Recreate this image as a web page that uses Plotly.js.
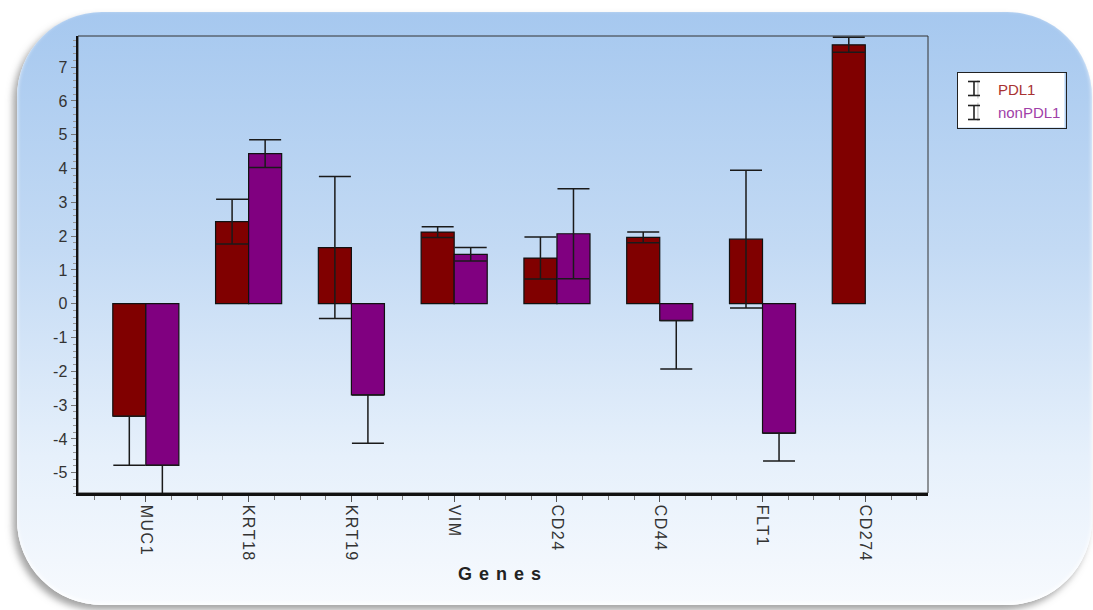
<!DOCTYPE html>
<html>
<head>
<meta charset="utf-8">
<script src="https://cdn.plot.ly/plotly-3.0.1.min.js"></script>
<style>
  html, body { margin: 0; padding: 0; width: 1093px; height: 610px; background: #ffffff; overflow: hidden; }
  #bg {
    position: absolute; left: 17px; top: 12px; width: 1075px; height: 593px;
    border-radius: 85px;
    background: linear-gradient(to bottom, #a6c8ef 0%, #c3daf4 40%, #e6f0fb 75%, #f7fafe 100%);
    box-shadow: -4px 5px 7px rgba(90, 90, 90, 0.55), 0 -2px 4px rgba(255,255,255,0.9) inset;
  }
  #chart { position: absolute; left: 0; top: 0; width: 1093px; height: 610px; }
  #chart .xtitle { letter-spacing: 7px; }
  #chart .xtick text { letter-spacing: 1.5px; }
</style>
</head>
<body>
<div id="bg"></div>
<div id="chart"></div>
<script>
const genes = ['MUC1', 'KRT18', 'KRT19', 'VIM', 'CD24', 'CD44', 'FLT1', 'CD274'];
const pdl1 = [-3.33, 2.43, 1.66, 2.12, 1.35, 1.96, 1.91, 7.66];
const pdl1Err = [1.45, 0.66, 2.10, 0.16, 0.62, 0.16, 2.04, 0.22];
const nonPdl1 = [-4.78, 4.44, -2.70, 1.46, 2.07, -0.50, -3.83, null];
const nonPdl1Err = [1.00, 0.41, 1.43, 0.20, 1.33, 1.43, 0.82, null];
const yTickVals = [-5, -4, -3, -2, -1, 0, 1, 2, 3, 4, 5, 6, 7];
const yTickText = ['-5', '-4', '-3', '-2', '-1', '0', '1', '2', '3', '4', '5', '6', '7'];

const xIdx = genes.map((g, i) => i);
// positive bars: symmetric error; negative bars: only the outward (downward) part is drawn
const plusOf = (vals, errs) => vals.map((v, i) => (v === null ? null : (v < 0 ? 0 : errs[i])));
const minusOf = (vals, errs) => vals.map((v, i) => (v === null ? null : errs[i]));

const font = 'Liberation Sans, Arial, sans-serif';
const errStyle = { color: '#1a1a1a', thickness: 1.5, width: 16 };
const legendIcon = { symbol: 'line-ns-open', size: 13, opacity: 0, color: '#222', line: { width: 1.6, color: '#222' } };

const traces = [
  {
    type: 'bar', name: 'PDL1', x: xIdx, y: pdl1, showlegend: false,
    marker: { color: '#800000', line: { color: '#111111', width: 1.2 } },
    error_y: Object.assign({ type: 'data', symmetric: false, array: plusOf(pdl1, pdl1Err), arrayminus: minusOf(pdl1, pdl1Err) }, errStyle)
  },
  {
    type: 'bar', name: 'nonPDL1', x: xIdx, y: nonPdl1, showlegend: false,
    marker: { color: '#800080', line: { color: '#111111', width: 1.2 } },
    error_y: Object.assign({ type: 'data', symmetric: false, array: plusOf(nonPdl1, nonPdl1Err), arrayminus: minusOf(nonPdl1, nonPdl1Err) }, errStyle)
  },
  { type: 'scatter', mode: 'markers', x: [null], y: [null], name: '<span style="color:#a83232">PDL1</span>', marker: legendIcon },
  { type: 'scatter', mode: 'markers', x: [null], y: [null], name: '<span style="color:#a040a8">nonPDL1</span>', marker: legendIcon }
];

// pixel helpers for the legend backing box and I-beam icons (plot area: x 78..928, y 36..493)
const px = v => (v - 78) / 850;
const py = v => (493 - v) / 457;
const iconLine = { color: '#222', width: 1.6 };
const legendShapes = [
  { type: 'rect', xref: 'paper', yref: 'paper', x0: px(957.5), x1: px(1064.5), y0: py(127.5), y1: py(72.5), fillcolor: '#ffffff', line: { width: 0 }, layer: 'above' }
];
const iconX = 974, capHalf = 6, halfH = 7;
[88.5, 112.5].forEach(cy => {
  legendShapes.push({ type: 'line', xref: 'paper', yref: 'paper', x0: px(iconX), x1: px(iconX), y0: py(cy - halfH), y1: py(cy + halfH), line: iconLine, layer: 'above' });
  [cy - halfH, cy + halfH].forEach(yy => {
    legendShapes.push({ type: 'line', xref: 'paper', yref: 'paper', x0: px(iconX - capHalf), x1: px(iconX + capHalf), y0: py(yy), y1: py(yy), line: iconLine, layer: 'above' });
  });
});

const layout = {
  width: 1093, height: 610,
  margin: { l: 78, r: 165, t: 36, b: 117, pad: 0 },
  paper_bgcolor: 'rgba(0,0,0,0)',
  plot_bgcolor: 'rgba(0,0,0,0)',
  barmode: 'group',
  bargap: 0.357,
  bargroupgap: 0,
  font: { family: font, color: '#333333' },
  xaxis: {
    type: 'linear', range: [-0.66, 7.61],
    tickmode: 'array', tickvals: xIdx, ticktext: genes,
    tickangle: 90,
    ticks: 'outside', ticklen: 6, tickwidth: 1, tickcolor: '#555',
    minor: { dtick: 0.25, tick0: 0, ticks: 'outside', ticklen: 4, tickcolor: '#777', showgrid: false },
    showline: true, linewidth: 2.5, linecolor: '#111',
    showgrid: false, zeroline: false,
    tickfont: { size: 16, color: '#333', family: font },
    title: { text: 'Genes', standoff: 14, font: { size: 18, family: 'Liberation Sans Narrow, Liberation Sans, Arial, sans-serif', color: '#222', weight: 'bold' } }
  },
  yaxis: {
    range: [-5.6, 7.92],
    tickmode: 'array', tickvals: yTickVals, ticktext: yTickText,
    ticks: 'outside', ticklen: 5, tickwidth: 1, tickcolor: '#777',
    minor: { dtick: 0.2, tick0: 0, ticks: 'outside', ticklen: 3, tickcolor: '#999', showgrid: false },
    showline: true, linewidth: 2.5, linecolor: '#111',
    showgrid: false, zeroline: false,
    tickfont: { size: 16, color: '#333', family: font }
  },
  legend: {
    x: 1.034, y: 0.921, xanchor: 'left', yanchor: 'top',
    bgcolor: 'rgba(0,0,0,0)', bordercolor: '#222', borderwidth: 1,
    font: { size: 15, family: font },
    itemwidth: 30, tracegroupgap: 0
  },
  showlegend: true,
  shapes: [
    { type: 'rect', xref: 'paper', yref: 'paper', x0: 0, x1: 1, y0: 0, y1: 1, line: { color: '#333', width: 1 }, layer: 'below' }
  ].concat(legendShapes)
};

Plotly.newPlot('chart', traces, layout, { displayModeBar: false, staticPlot: true });
</script>
</body>
</html>
